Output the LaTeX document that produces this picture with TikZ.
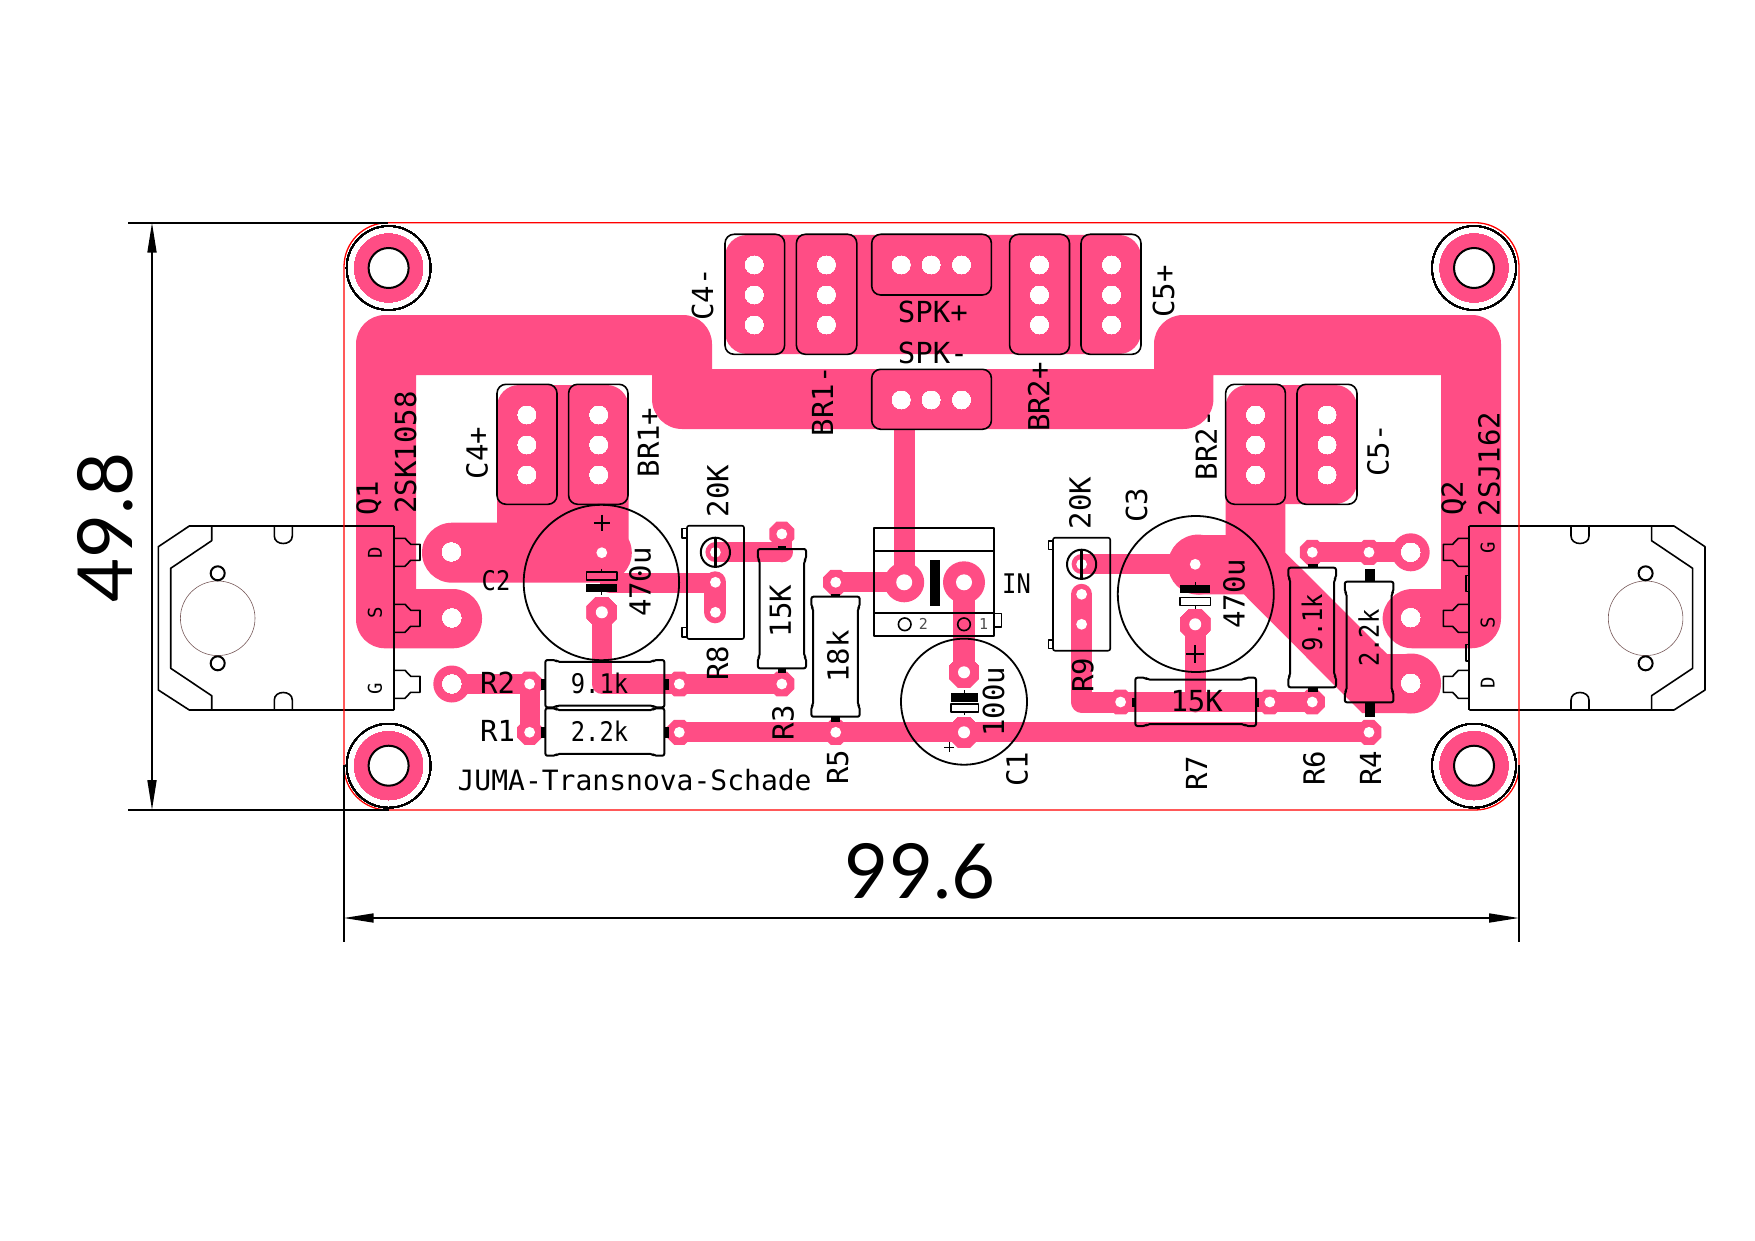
\documentclass[tikz,border=0pt]{standalone}
\usepackage{fontspec}
\usetikzlibrary{arrows.meta}
\newfontfamily\pcbfont{DejaVu Sans Mono}
\newfontfamily\pcbnarrow[FakeStretch=0.88]{DejaVu Sans Mono}
\newfontfamily\dimfont{Lato}
\definecolor{copper}{RGB}{255,77,133}
\definecolor{hsink}{RGB}{120,90,90}
\tikzset{
  trace/.style={copper,line width=20,line cap=round,line join=round},
  body/.style={black,line width=1.6,line join=round},
  lbl/.style={font=\pcbfont\fontsize{29}{29}\selectfont,inner sep=0pt},
  lblmid/.style={font=\pcbnarrow\fontsize{27}{27}\selectfont,inner sep=0pt},
  lblpin/.style={font=\pcbfont\fontsize{19}{19}\selectfont,inner sep=0pt},
  lbltiny/.style={font=\pcbfont\fontsize{15}{15}\selectfont,inner sep=0pt,black!70},
  lbldim/.style={font=\dimfont\fontsize{76}{76}\selectfont,inner sep=0pt},
  dimline/.style={black,line width=1.7,{Triangle[length=30pt,width=9pt]}-{Triangle[length=30pt,width=9pt]}},
  extline/.style={black,line width=1.7},
}
% octagonal pad: x, y, radius
\newcommand{\octpad}[3]{\fill[copper] (#1,#2) +(22.5:#3*1.08) -- +(67.5:#3*1.08) -- +(112.5:#3*1.08) -- +(157.5:#3*1.08) -- +(202.5:#3*1.08) -- +(247.5:#3*1.08) -- +(292.5:#3*1.08) -- +(337.5:#3*1.08) -- cycle;}
% resistor outlines: x0, y0, x1, y1
\newcommand{\reshbody}[4]{\draw[body,line width=2,rounded corners=2] (#1,#2) -- (#1+10,#2) -- (#1+12,#2+1.8) -- (#3-12,#2+1.8) -- (#3-10,#2) -- (#3,#2) -- (#3,#4) -- (#3-10,#4) -- (#3-12,#4-1.8) -- (#1+12,#4-1.8) -- (#1+10,#4) -- (#1,#4) -- cycle;}
\newcommand{\resvbody}[4]{\draw[body,line width=2,rounded corners=2] (#1,#2) -- (#1,#2+10) -- (#1+1.8,#2+12) -- (#1+1.8,#4-12) -- (#1,#4-10) -- (#1,#4) -- (#3,#4) -- (#3,#4-10) -- (#3-1.8,#4-12) -- (#3-1.8,#2+12) -- (#3,#2+10) -- (#3,#2) -- cycle;}
% transistor outline, left hand side
\newcommand{\mosfet}{
  \draw[body] (394,526) -- (189.3,526) -- (158.3,546.7) -- (158.3,690) -- (189.3,710) -- (394,710);
  \draw[body,line width=2] (394,526) -- (394,710);
  \draw[body] (211.7,526) -- (211.7,540.7) -- (170.7,568.3) -- (170.7,668.3) -- (211.7,695.7) -- (211.7,710);
  \draw[body] (274.3,526) -- (274.3,536) .. controls (274.3,546) and (292.3,546) .. (292.3,536) -- (292.3,526);
  \draw[body] (274.3,710) -- (274.3,700) .. controls (274.3,690) and (292.3,690) .. (292.3,700) -- (292.3,710);
  \draw[hsink,line width=0.6] (217.7,618.3) circle[radius=37.3];
  \draw[black,line width=2] (217.7,573.3) circle[radius=7];
  \draw[black,line width=2] (217.7,663.3) circle[radius=7];
  \foreach \yc in {552.3,618.3,684.3}
    \draw[body] (394,\yc-14) -- (405,\yc-14) -- (410.7,\yc-8) -- (420,\yc-8) -- (420,\yc+8) -- (410.7,\yc+8) -- (405,\yc+14) -- (394,\yc+14);
}
\begin{document}
\begin{tikzpicture}[x=1pt,y=-1pt]
  \useasboundingbox (0,0) rectangle (1755,1241);
  % power rails
  \fill[copper] (416,589) [sharp corners] -- (416,375) -- (652,375) [rounded corners=30] -- (652,429) -- (1213.4,429) [sharp corners] -- (1213.4,375) -- (1441,375) -- (1441,589) [rounded corners=30] -- (1382.6,589) -- (1382.6,648.3) -- (1501,648.3) [rounded corners=29] -- (1501,315) -- (1154,315) [sharp corners] -- (1154,369) -- (712,369) [rounded corners=29] -- (712,315) -- (356,315) -- (356,648.3) -- (482,648.3) -- (482,589) [sharp corners] -- cycle;
  \fill[copper,rounded corners=22] (725,235) rectangle (1141,354);
  % left capacitor block and drain
  \fill[copper,rounded corners=22] (497,385) rectangle (628.6,560);
  \fill[copper,rounded corners=30] (422,522.7) rectangle (631.8,582.7);
  \fill[copper] (610,580) -- (618.6,582.7) -- (629,592.7) -- (640,592.7) -- (640,572.7) -- cycle;
  % right capacitor block and diagonal
  \fill[copper,rounded corners=22] (1225.6,385) rectangle (1357,504);
  \fill[copper] (1225.6,470) -- (1285.4,470) -- (1285.4,552.7) -- (1387,654) -- (1411,654) -- (1411,713) -- (1362,713) -- (1243.8,594.3) -- (1198,594.3) -- (1198,535) -- (1225.6,535) -- cycle;
  \fill[copper] (1198,564.6) circle[radius=30];
  \fill[copper] (1411,683.5) circle[radius=30];
  % signal traces
  \draw[trace] (610,582.7) -- (715.4,582.7);
  \draw[trace,line width=22] (715.4,582.3) -- (715.4,612.3);
  \draw[trace] (715.4,552.3) -- (783,552.3);
  \draw[trace] (781.8,534) -- (781.8,552.3);
  \draw[trace] (601.8,612.3) -- (601.8,684) -- (781.8,684);
  \draw[trace] (451.8,684) -- (529.6,684) -- (529.6,732.3);
  \draw[trace] (679.3,732.3) -- (1369,732.3);
  \draw[trace] (835.7,582.3) -- (904.2,582.3);
  \draw[trace,line width=21] (904.2,429) -- (904.2,582);
  \draw[trace,line width=21.7] (964,582.3) -- (964,672.3);
  \draw[trace] (1081.6,564.3) -- (1198,564.3);
  \draw[trace,line width=21] (1081.6,594.3) -- (1081.6,702) -- (1120.6,702);
  \draw[trace] (1120.6,702) -- (1312.3,702);
  \draw[trace,line width=21] (1195.2,624.3) -- (1195.2,702);
  \draw[trace] (1312.3,552.3) -- (1410.7,552.3);
  % pads
  \fill[copper] (451.8,684) circle[radius=18.5];
  \fill[copper] (1410.7,552.3) circle[radius=19];
  \fill[copper] (904.2,582.3) circle[radius=20];
  \fill[copper] (964,582.3) circle[radius=21];
  \foreach \px/\py in {781.8/534,529.6/684,679.3/684,781.8/684,529.6/732.3,679.3/732.3,835.7/732.3,835.7/582.3,1120.6/702,1269.8/702,1312.3/702,1312.3/552.3,1369/552.3,1369/732.3}
    \octpad{\px}{\py}{12.5}
  \foreach \px/\py in {601.8/612.3,964/672.3,964/732.3,1195.2/624.3}
    \octpad{\px}{\py}{15}
  % mounting holes
  \foreach \px/\py in {388.6/268,1474/268,388.6/765.7,1474/765.7} {
    \fill[copper] (\px,\py) circle[radius=34.3];
    \filldraw[fill=white,draw=black,line width=2] (\px,\py) circle[radius=20];
    \draw[black,line width=1.3] (\px,\py) circle[radius=42];
  }
  % drill holes
  \foreach \py in {265,295,325} {
    \foreach \px in {754.3,826.4,1039.5,1111.5}
      \fill[white] (\px,\py) circle[radius=9];
  }
  \foreach \py in {415,445,475} {
    \foreach \px in {526.8,598.6,1255.5,1327}
      \fill[white] (\px,\py) circle[radius=9];
  }
  \foreach \px in {901.2,931.1,961.5} {
    \fill[white] (\px,265) circle[radius=9];
    \fill[white] (\px,400) circle[radius=9];
  }
  \foreach \px/\py in {451.4/552,451.8/618,451.8/684,1410.7/552.3,1410.7/617.7,1410.7/683.3}
    \fill[white] (\px,\py) circle[radius=9.3];
  \foreach \px/\py in {904.2/582.3,964/582.3}
    \fill[white] (\px,\py) circle[radius=8];
  \foreach \px/\py in {781.8/534,529.6/684,679.3/684,781.8/684,529.6/732.3,679.3/732.3,835.7/732.3,835.7/582.3,1120.6/702,1269.8/702,1312.3/702,1312.3/552.3,1369/552.3,1369/732.3,601.8/552.7,715.4/582.3,715.4/612.3,715.4/552.3,1081.6/564.3,1081.6/594.3,1081.6/624.3,1195.2/564.3}
    \fill[white] (\px,\py) circle[radius=5.4];
  \foreach \px/\py in {601.8/612.3,964/672.3,964/732.3,1195.2/624.3}
    \fill[white] (\px,\py) circle[radius=6];
  % transistors
  \mosfet
  \begin{scope}[shift={(1863.3,0)},xscale=-1]
    \mosfet
  \end{scope}
  \draw[body] (1465.7,575.3) rectangle (1469.3,591.3);
  \draw[body] (1465.7,644.3) rectangle (1469.3,660.7);
  % board edge
  \draw[red,line width=1.3,rounded corners=44] (344,222.7) rectangle (1519,810);
  % three pin headers
  \foreach \xa/\xb in {725/784.6,796.4/856.8,1009.6/1069.5,1081/1141}
    \draw[body,rounded corners=9] (\xa,234.3) rectangle (\xb,354.3);
  \foreach \xa/\xb in {497/557,568.6/628,1225.6/1285.4,1297/1357}
    \draw[body,rounded corners=9] (\xa,384.3) rectangle (\xb,504.3);
  \draw[body,rounded corners=9] (871.7,234.3) rectangle (991.4,295);
  \draw[body,rounded corners=9] (871.7,369.3) rectangle (991.4,429.3);
  % input connector
  \draw[body,line width=2] (873.9,527.7) rectangle (994.4,635.7);
  \draw[body,line width=2] (873.9,550.7) -- (994.4,550.7);
  \draw[body,line width=2] (873.9,613.3) -- (994.4,613.3);
  \draw[body] (994.4,613.3) -- (1001.4,613.3) -- (1001.4,626.7) -- (994.4,626.7);
  \fill[black] (929.8,560) rectangle (939.8,605.7);
  \draw[body] (904.7,624.3) circle[radius=6.3];
  \draw[body] (964,624.3) circle[radius=6.3];
  % trimmers
  \draw[body,rounded corners=2] (687,525.7) rectangle (744,639);
  \draw[body] (687,528.3) -- (682,528.3) -- (682,537.7) -- (687,537.7);
  \draw[body] (687,627.3) -- (682,627.3) -- (682,636.7) -- (687,636.7);
  \draw[black,line width=2] (715.4,552.3) circle[radius=14.6];
  \draw[black,line width=3.5] (715.4,538) -- (715.4,566.5);
  \draw[body,rounded corners=2] (1053,537.7) rectangle (1110.2,650.7);
  \draw[body] (1053,540.7) -- (1048.6,540.7) -- (1048.6,549.3) -- (1053,549.3);
  \draw[body] (1053,640) -- (1048.6,640) -- (1048.6,648.3) -- (1053,648.3);
  \draw[black,line width=2] (1081.6,564.3) circle[radius=14.6];
  \draw[black,line width=3.5] (1081.6,550) -- (1081.6,578.5);
  % electrolytics
  \draw[body,line width=1.8] (601.4,582.5) circle[radius=77.7];
  \draw[body] (586.4,571.7) rectangle (616.8,580);
  \fill[black] (586.4,584.3) rectangle (616.8,591.7);
  \draw[black,line width=2] (601.8,514.7) -- (601.8,530.7) (593.8,522.7) -- (609.8,522.7);
  \draw[black,line width=1.2] (601.6,568.5) -- (601.6,571.7) (601.6,591.7) -- (601.6,595);
  \draw[body,line width=1.8] (1195.8,594) circle[radius=78];
  \fill[black] (1180,585.3) rectangle (1210.4,593.3);
  \draw[body] (1180,597.3) rectangle (1210.4,605.3);
  \draw[black,line width=2] (1195.2,645) -- (1195.2,663) (1186.2,654) -- (1204.2,654);
  \draw[black,line width=1.2] (1195.2,582) -- (1195.2,585.3) (1195.2,605.3) -- (1195.2,608.5);
  \draw[body,line width=1.8] (964,701.7) circle[radius=63];
  \fill[black] (951,693.3) rectangle (978.4,701.7);
  \draw[body] (951,704) rectangle (978.4,711.7);
  \draw[black,line width=1.6] (949.3,742.3) -- (949.3,752.3) (944.3,747.3) -- (954.3,747.3);
  \draw[black,line width=1.2] (964.7,690) -- (964.7,693.3) (964.7,711.7) -- (964.7,715);
  % resistors
  \reshbody{545.4}{660}{664.3}{707.3}
  \reshbody{545.4}{708.3}{664.3}{755.7}
  \reshbody{1135.4}{677.7}{1256}{726}
  \resvbody{757.9}{549}{806}{668.3}
  \resvbody{811.4}{596.7}{859.6}{716.7}
  \resvbody{1288.4}{567.7}{1336}{687.3}
  \resvbody{1344.8}{581.7}{1393.4}{702.3}
  \foreach \xa/\ya/\xb/\yb in {541/679.3/545.4/690,664.3/679.3/668.6/690,541/727/545.4/737.7,664.3/727/668.6/737.7,777.5/546/786.4/549,777.5/668.3/786.4/673,831/594/840/596.7,831/716.7/840/721.7,1307.5/564/1317.5/567.7,1307.5/687.3/1317.5/691.7,1365/569/1375/581.7,1365/702.3/1375/716.7,1132/697.7/1135.4/706.7,1256/697.7/1259/706.7}
    \fill[black] (\xa,\ya) rectangle (\xb,\yb);
  % texts
  \node[lbl,rotate=90] (labq1) at (369,498) {Q1};
  \node[lbl,rotate=90] (lab2sk) at (405.5,452.5) {2SK1058};
  \node[lbl,rotate=90] (labcfourp) at (477,453) {C4+};
  \node[lbl,rotate=90] (labbronep) at (648.4,442.5) {BR1+};
  \node[lbl,rotate=90] (labcfourm) at (702.5,294.5) {C4-};
  \node[lbl,rotate=90] (labbronem) at (822.5,401.3) {BR1-};
  \node[lbl,rotate=90] (labtrimr) at (717.7,491) {20K};
  \node[lblmid] (labctwo) at (496,580.7) {C2};
  \node[lbl,rotate=90] (labctwov) at (640,582) {470u};
  \node[lbl,rotate=90] (labreight) at (717.5,663) {R8};
  \node[lbl,rotate=90] (labrthreev) at (780.6,611) {15K};
  \node[lbl,rotate=90] (labrfivev) at (837.7,656.7) {18k};
  \node[lbl,rotate=90] (labrthree) at (783,722.8) {R3};
  \node[lbl,rotate=90] (labrfive) at (837.7,767.5) {R5};
  \node[lbl] (labrtwo) at (497.6,683) {R2};
  \node[lbl] (labrone) at (497.6,731) {R1};
  \node[lblmid] (labrtwov) at (599.5,683) {9.1k};
  \node[lblmid] (labronev) at (599.5,731.7) {2.2k};
  \node[font=\pcbfont\fontsize{28}{28}\selectfont,inner sep=0pt] (labjuma) at (634.6,780) {JUMA-Transnova-Schade};
  \node[lbl,rotate=90] (labcfivep) at (1163.6,291.3) {C5+};
  \node[lbl] (labspkp) at (932.8,312) {SPK+};
  \node[lbl] (labspkm) at (932.8,353) {SPK-};
  \node[lbl,rotate=90] (labbrtwop) at (1038.5,397) {BR2+};
  \node[lbl,rotate=90] (labbrtwom) at (1206,445.3) {BR2-};
  \node[lbl,rotate=90] (labcfivem) at (1378,450.5) {C5-};
  \node[lbl,rotate=90] (labqtwo) at (1454,498) {Q2};
  \node[lbl,rotate=90] (lab2sj) at (1489,464) {2SJ162};
  \node[lbl,rotate=90] (labtrimrr) at (1080,503) {20K};
  \node[lbl,rotate=90] (labcthree) at (1136.6,505) {C3};
  \node[lblmid] (labin) at (1016.5,583.7) {IN};
  \node[lbl,rotate=90] (labcthreev) at (1234,593.7) {470u};
  \node[lbl,rotate=90] (labconev) at (993.5,701.7) {100u};
  \node[lbl,rotate=90] (labcone) at (1017,769.5) {C1};
  \node[lbl,rotate=90] (labrnine) at (1082.7,675) {R9};
  \node[lbl] (labrsevenv) at (1196.7,701) {15K};
  \node[lblmid,rotate=90] (labrsixv) at (1312,622.5) {9.1k};
  \node[lblmid,rotate=90] (labrfourv) at (1368.5,638) {2.2k};
  \node[lbl,rotate=90] (labrseven) at (1196.6,773) {R7};
  \node[lbl,rotate=90] (labrsix) at (1314,768) {R6};
  \node[lbl,rotate=90] (labrfour) at (1370.5,768) {R4};
  \node[lblpin,rotate=90] (labdl) at (375,553) {D};
  \node[lblpin,rotate=90] (labsl) at (375,613) {S};
  \node[lblpin,rotate=90] (labgl) at (375,689) {G};
  \node[lblpin,rotate=90] (labgr) at (1487.7,547.7) {G};
  \node[lblpin,rotate=90] (labsr) at (1487.7,622.7) {S};
  \node[lblpin,rotate=90] (labdr) at (1487.7,682.3) {D};
  \node[lbltiny] (labpintwo) at (923.3,624.3) {2};
  \node[lbltiny] (labpinone) at (983.6,624.3) {1};
  % dimensions
  \draw[extline] (128.3,222.7) -- (388,222.7);
  \draw[extline] (128.3,810) -- (389,810);
  \draw[extline] (343.7,765) -- (343.7,941.7);
  \draw[extline] (1519,765) -- (1519,941.7);
  \draw[dimline] (152,222.7) -- (152,810);
  \draw[dimline] (343.7,918) -- (1519,918);
  \node[lbldim,rotate=90] (labheight) at (105,527.7) {49.8};
  \node[lbldim] (labwidth) at (920,871) {99.6};
\end{tikzpicture}
\end{document}
